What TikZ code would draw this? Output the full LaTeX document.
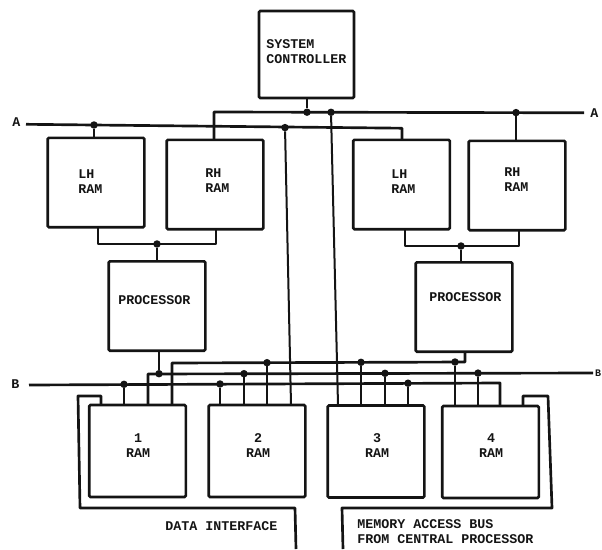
\documentclass[tikz,border=0pt]{standalone}
\usepackage{fontspec}
\setmainfont{Liberation Mono}
\definecolor{ink}{HTML}{141414}
\tikzset{
  unit/.style={draw=ink,line width=2pt,rounded corners=1pt,outer sep=0pt,inner sep=0pt,minimum width=72.5pt,minimum height=67pt},
  wire/.style={draw=ink,line width=2pt,line join=round},
  thinwire/.style={draw=ink,line width=1.5pt},
  junction/.style={circle,fill=ink,inner sep=0pt,minimum size=5.6pt,outer sep=0pt},
  caption/.style={text=ink,font=\bfseries\fontsize{10}{11.25}\selectfont,inner sep=0pt,anchor=west,align=left},
  ramcap/.style={text=ink,font=\bfseries\fontsize{10}{11.25}\selectfont,inner sep=0pt,anchor=center,align=center}
}
\begin{document}
\begin{tikzpicture}[x=0.75pt,y=-0.75pt]
\useasboundingbox (0,0) rectangle (602,549);
% boxes
\node[unit,minimum width=71.25pt,minimum height=65.25pt] (sc) at (306.5,54.5) {};
\node[unit] (lhA) at (96,182.5) {};
\node[unit] (rhA) at (215,184.5) {};
\node[unit] (lhB) at (401.5,184.5) {};
\node[unit] (rhB) at (517,185.5) {};
\node[unit] (procA) at (157,306) {};
\node[unit] (procB) at (464,307) {};
\node[unit,minimum height=69pt] (ramA) at (137.5,451) {};
\node[unit,minimum height=69pt] (ramB) at (257,451) {};
\node[unit,minimum height=69pt] (ramC) at (376,451.5) {};
\node[unit,minimum height=69pt] (ramD) at (490.5,452) {};
% labels
\node[caption] (tsc) at (266,51.5) {SYSTEM\\CONTROLLER};
\node[caption] (tlhA) at (78,182) {LH\\RAM};
\node[caption] (trhA) at (205,181) {RH\\RAM};
\node[caption] (tlhB) at (391,182) {LH\\RAM};
\node[caption] (trhB) at (504,179.5) {RH\\RAM};
\node[caption] (tpA) at (118,300) {PROCESSOR};
\node[caption] (tpB) at (429,297) {PROCESSOR};
\node[ramcap] (trA) at (138,445.5) {1\\RAM};
\node[ramcap] (trB) at (258,445.5) {2\\RAM};
\node[ramcap] (trC) at (377,445.5) {3\\RAM};
\node[ramcap] (trD) at (491,445.5) {4\\RAM};
\node[caption] (tdi) at (165,526) {DATA INTERFACE};
\node[caption] (tmb) at (357,531.5) {MEMORY ACCESS BUS\\FROM CENTRAL PROCESSOR};
\node[caption] (tAl) at (12,122) {A};
\node[caption] (tAr) at (590,113) {A};
\node[caption] (tBl) at (11,384) {B};
\node[caption,anchor=east,font=\bfseries\fontsize{7.5}{9}\selectfont] (tBr) at (601.5,373) {B};
% junctions
\node[junction] (jc) at (307,112.2) {};
\node[junction] (jm) at (331,112.3) {};
\node[junction] (jr) at (516,112.6) {};
\node[junction] (ja) at (94,125) {};
\node[junction] (jb) at (285,127.6) {};
\node[junction] (jlA) at (157,244) {};
\node[junction] (jlB) at (461,246) {};
\node[junction] (jpA) at (159,373.7) {};
\node[junction] (j2a) at (244,373.7) {};
\node[junction] (j2b) at (385,373.3) {};
\node[junction] (j2c) at (478,373.1) {};
\node[junction] (j3a) at (267,362.7) {};
\node[junction] (j3b) at (361,362.3) {};
\node[junction] (j3c) at (455,362) {};
\node[junction] (jBa) at (124,384.3) {};
\node[junction] (jBb) at (220,384) {};
\node[junction] (jBc) at (408,383.2) {};
% free ends of the buses
\coordinate (aS) at (26,124.3);
\coordinate (aE) at (402,128.2);
\coordinate (tS) at (214,112);
\coordinate (tE) at (584,112.8);
\coordinate (bS) at (29,385);
\coordinate (bE) at (500,383);
\coordinate (mS) at (148,374);
\coordinate (mE) at (593,373);
\coordinate (nS) at (172,363);
\coordinate (nE) at (465,362);
\coordinate (lpS) at (101,396);
\coordinate (lpC) at (78,396);
\coordinate (lpD) at (80,508);
\coordinate (lpE) at (295,508);
\coordinate (lpF) at (296,549);
\coordinate (rpS) at (523,396);
\coordinate (rpC) at (548,396);
\coordinate (rpD) at (552,508);
\coordinate (rpE) at (342,508);
\coordinate (rpF) at (343,549);
\coordinate (mbA) at (291,405);
\coordinate (mbB) at (338,405);
% A side
\draw[wire] (sc.south -| jc) -- (jc);
\draw[wire] (rhA.north -| tS) -- (tS) -- (tE);
\draw[wire] (aS) -- (aE) -- (lhB.north -| aE);
\draw[wire] (ja) -- (lhA.north -| ja);
\draw[wire] (jr) -- (rhB.north -| jr);
\draw[thinwire] (jb) -- (mbA);
\draw[thinwire] (jm) -- (mbB);
% RAM pairs and processors
\draw[wire] (lhA.south -| 98,0) -- (98,0 |- jlA) -- (216,0 |- jlA) -- (rhA.south -| 216,0);
\draw[wire] (jlA) -- (procA.north -| jlA);
\draw[wire] (lhB.south -| 405,0) -- (405,0 |- jlB) -- (519,0 |- jlB) -- (rhB.south -| 519,0);
\draw[wire] (jlB) -- (procB.north -| jlB);
\draw[wire] (procA.south -| jpA) -- (jpA);
% lower buses
\draw[wire] (bS) -- (bE) -- (ramD.north -| bE);
\draw[wire] (ramA.north -| mS) -- (mS) -- (mE);
\draw[wire] (ramA.north -| nS) -- (nS) -- (nE) -- (procB.south -| nE);
\foreach \j/\r in {jBa/ramA,jBb/ramB,j2a/ramB,j3a/ramB,j3b/ramC,j2b/ramC,jBc/ramC,j3c/ramD,j2c/ramD}
  \draw[wire] (\j) -- (\r.north -| \j);
% interface loops
\draw[wire] (ramA.north -| lpS) -- (lpS) -- (lpC) -- (lpD) -- (lpE) -- (lpF);
\draw[wire] (ramD.north -| rpS) -- (rpS) -- (rpC) -- (rpD) -- (rpE) -- (rpF);
\end{tikzpicture}
\end{document}
